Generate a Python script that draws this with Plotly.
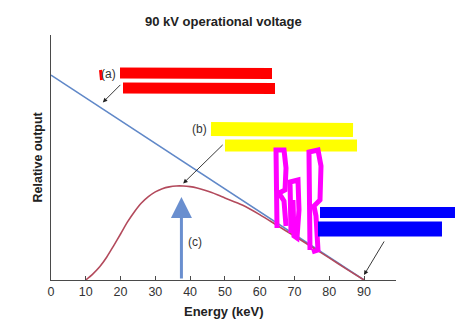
import plotly.graph_objects as go

# Unfiltered (Kramers) spectrum: straight line from 0 keV down to the 90 kV endpoint
unfiltered_energy = [0, 90]
unfiltered_output = [90, 0]

# Filtered spectrum as emitted from the tube
filtered_energy = [10, 12, 14, 16, 18, 20, 22, 24, 26, 28, 30, 32, 34, 36, 38,
                   40, 42, 44, 46, 48, 50, 55, 60, 65, 70, 75, 80, 85, 90]
filtered_output = [0, 2.6, 5.8, 10.0, 15.0, 20.2, 25.5, 30.0, 33.8, 36.6, 38.7,
                   40.1, 40.9, 41.3, 41.3, 41.0, 40.4, 39.5, 38.5, 37.3, 36.0,
                   32.9, 28.7, 24.0, 19.3, 14.5, 9.7, 4.8, 0]

# Mean energy marker
mean_energy = 37.5
mean_arrow_top = 36.4

x_ticks = [0, 10, 20, 30, 40, 50, 60, 70, 80, 90]

AX = "#4a4a4a"
FONT = "Liberation Sans, Arial, Helvetica, sans-serif"

fig = go.Figure()
fig.add_trace(go.Scatter(x=unfiltered_energy, y=unfiltered_output, mode="lines",
                         line=dict(color="#6088c8", width=1.6), hoverinfo="skip"))
fig.add_trace(go.Scatter(x=filtered_energy, y=filtered_output, mode="lines",
                         line=dict(color="#b34a5c", width=1.6, shape="spline", smoothing=0.8),
                         hoverinfo="skip"))

# plot-area pixel geometry used for the marker strokes
L, R, T, B = 51, 396, 35, 280


def px(xp, yp):
    return (xp - L) / (R - L), (B - yp) / (B - T)


def stroke(points, color, width):
    path = ""
    for i, (a, b) in enumerate(points):
        u, v = px(a, b)
        path += ("M" if i == 0 else "L") + f"{u:.4f},{v:.4f} "
    fig.add_shape(type="path", path=path, xref="paper", yref="paper",
                  line=dict(color=color, width=width), layer="above")


annotations = [
    dict(x=16.6, y=90.4, text="(a)", showarrow=False),
    dict(x=42.7, y=66.3, text="(b)", showarrow=False),
    dict(x=41.5, y=16.7, text="(c)", showarrow=False),
    # pointer arrows
    dict(x=14.9, y=78.0, text="", showarrow=True, ax=19, ay=-19,
         arrowhead=2, arrowsize=1, arrowwidth=0.9, arrowcolor="#222"),
    dict(x=38.0, y=42.4, text="", showarrow=True, ax=41, ay=-40,
         arrowhead=2, arrowsize=1, arrowwidth=0.9, arrowcolor="#222"),
    dict(x=90.0, y=2.2, text="", showarrow=True, ax=21, ay=-35,
         arrowhead=2, arrowsize=1, arrowwidth=0.9, arrowcolor="#222"),
    # mean energy arrow
    dict(x=mean_energy, y=mean_arrow_top, ax=mean_energy, ay=0, axref="x", ayref="y",
         text="", showarrow=True, arrowhead=2, arrowsize=1.4, arrowwidth=3,
         arrowcolor="#6a8fcf"),
]
for a in annotations:
    a.setdefault("font", dict(family=FONT, size=12, color="#333"))

# axis titles and chart title
annotations += [
    dict(x=0.5, y=1, xref="paper", yref="paper", yshift=14, xanchor="center", yanchor="middle",
         text="<b>90 kV operational voltage</b>",
         showarrow=False, font=dict(family=FONT, size=13, color="#222")),
    dict(x=0.5, y=0, xref="paper", yref="paper", yshift=-31, xanchor="center", yanchor="middle",
         text="<b>Energy (keV)</b>",
         showarrow=False, font=dict(family=FONT, size=13, color="#222")),
    dict(x=0, y=0.5, xref="paper", yref="paper", xshift=-14, xanchor="center", yanchor="middle",
         textangle=-90, text="<b>Relative output</b>", showarrow=False,
         font=dict(family=FONT, size=12.5, color="#222")),
]

# marker strokes drawn over the labels
stroke([(100.5, 70), (101.5, 80)], "#ff0000", 3)
stroke([(120, 73), (272, 73.5)], "#ff0000", 11)
stroke([(123, 88), (275, 88.5)], "#ff0000", 11)
stroke([(211, 129), (353, 130)], "#ffff00", 14)
stroke([(225, 145.5), (357, 145.5)], "#ffff00", 12)
stroke([(277, 228), (276, 150), (284, 150), (286, 168), (285, 190), (279, 193),
        (284, 201), (286, 226)], "#ff00ff", 5)
stroke([(291, 233), (290, 182), (298, 180), (299, 210), (297, 238), (294, 236),
        (293, 200)], "#ff00ff", 5)
stroke([(310, 250), (309, 152), (318, 150), (321, 166), (320, 200), (314, 206),
        (316, 216), (318, 250), (312, 252)], "#ff00ff", 5)
stroke([(320, 212.5), (455, 212.5)], "#0000ff", 11)
stroke([(318, 229), (442, 229)], "#0000ff", 15)

fig.update_layout(
    width=455, height=322,
    margin=dict(l=L, r=455 - R, t=T, b=322 - B),
    paper_bgcolor="white", plot_bgcolor="white",
    showlegend=False,
    annotations=annotations,
    xaxis=dict(range=[0, 99.2], tickvals=x_ticks, ticks="inside", ticklen=4,
               tickcolor=AX, showline=True, linecolor=AX, linewidth=1,
               showgrid=False, zeroline=False,
               tickfont=dict(family=FONT, size=12.5, color="#333")),
    yaxis=dict(range=[0, 107.6], showticklabels=False, ticks="", showline=True,
               linecolor=AX, linewidth=1, showgrid=False, zeroline=False),
)

fig.write_html("out.html")
